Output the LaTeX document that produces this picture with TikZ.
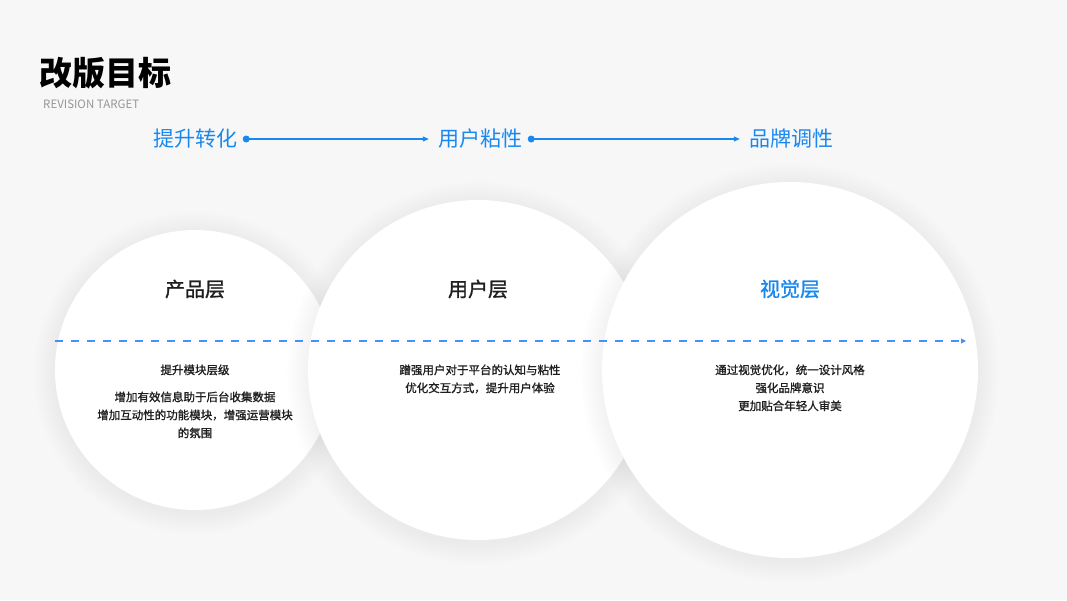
\documentclass[tikz,border=0pt]{standalone}
\usepackage{fontspec}
\setmainfont{Noto Sans CJK SC}
\newfontfamily\medfont{Noto Sans CJK SC}[FakeBold=1.2]
\usetikzlibrary{arrows.meta}
\definecolor{bgc}{RGB}{247,247,247}
\definecolor{blu}{RGB}{24,136,240}
\definecolor{dashblu}{RGB}{70,145,248}
\definecolor{subgray}{RGB}{150,150,150}
\definecolor{txt}{RGB}{30,30,30}
\tikzset{
  disc/.style={circle, fill=white, inner sep=0pt, minimum size=#1},
  kw/.style={font=\fontsize{21}{24}\selectfont, text=blu, inner sep=1pt},
  ctitle/.style={font=\fontsize{20}{24}\selectfont\medfont, text=txt},
  body/.style={font=\fontsize{11.5}{18}\selectfont\medfont, text=txt, align=center},
  flow/.style={blu, line width=1.1pt, -{Triangle[length=6pt,width=5pt]}},
}
\newcommand{\softshadow}[3]{%
  \foreach \k in {1,...,12}{
    \fill[black, opacity=0.004] (#1,#2+3) circle ({#3+1.8*\k});
  }
}
\begin{document}
\begin{tikzpicture}[x=1pt,y=-1pt]
\fill[bgc] (0,0) rectangle (1067,600);
\useasboundingbox (0,0) rectangle (1067,600);

% title
\node[anchor=west, font=\fontsize{33}{36}\selectfont\bfseries, text=black, inner sep=0pt] (title) at (39,73) {改版目标};
\node[anchor=west, font=\fontsize{11.5}{14}\selectfont, text=subgray, inner sep=0pt] (sub) at (43,104) {REVISION TARGET};

% circles
\softshadow{195}{370}{140}
\node[disc=280pt] (c1) at (195,370) {};
\softshadow{478}{370}{170}
\node[disc=340pt] (c2) at (478,370) {};
\softshadow{790}{370}{188}
\node[disc=376pt] (c3) at (790,370) {};

% dashed axis
\coordinate (dl) at (55,341);
\coordinate (dr) at (966,341);
\draw[dashblu, line width=1.1pt, dash pattern=on 8pt off 8pt, -{Triangle[length=5pt,width=5pt]}] (dl) -- (dr);

% top flow
\node[kw] (k1) at (195,139) {提升转化};
\node[kw] (k2) at (480,139) {用户粘性};
\node[kw] (k3) at (791,139) {品牌调性};
\fill[blu] ([xshift=8pt]k1.east) circle (3.5pt) coordinate (d1);
\fill[blu] ([xshift=8pt]k2.east) circle (3.5pt) coordinate (d2);
\draw[flow] (d1) -- ([xshift=-8pt]k2.west);
\draw[flow] (d2) -- ([xshift=-8pt]k3.west);

% circle titles
\node[ctitle] (t1) at (195,289) {产品层};
\node[ctitle] (t2) at (478,289) {用户层};
\node[ctitle, text=blu] (t3) at (790,289) {视觉层};

% bodies
\node[body, anchor=north] (b1a) at (195,361) {提升模块层级};
\node[body, anchor=north] (b1b) at (195,388) {增加有效信息助于后台收集数据\\增加互动性的功能模块，增强运营模块\\的氛围};
\node[body, anchor=north] (b2) at (480,361) {蹭强用户对于平台的认知与粘性\\优化交互方式，提升用户体验};
\node[body, anchor=north] (b3) at (790,361) {通过视觉优化，统一设计风格\\强化品牌意识\\更加贴合年轻人审美};
\end{tikzpicture}
\end{document}
